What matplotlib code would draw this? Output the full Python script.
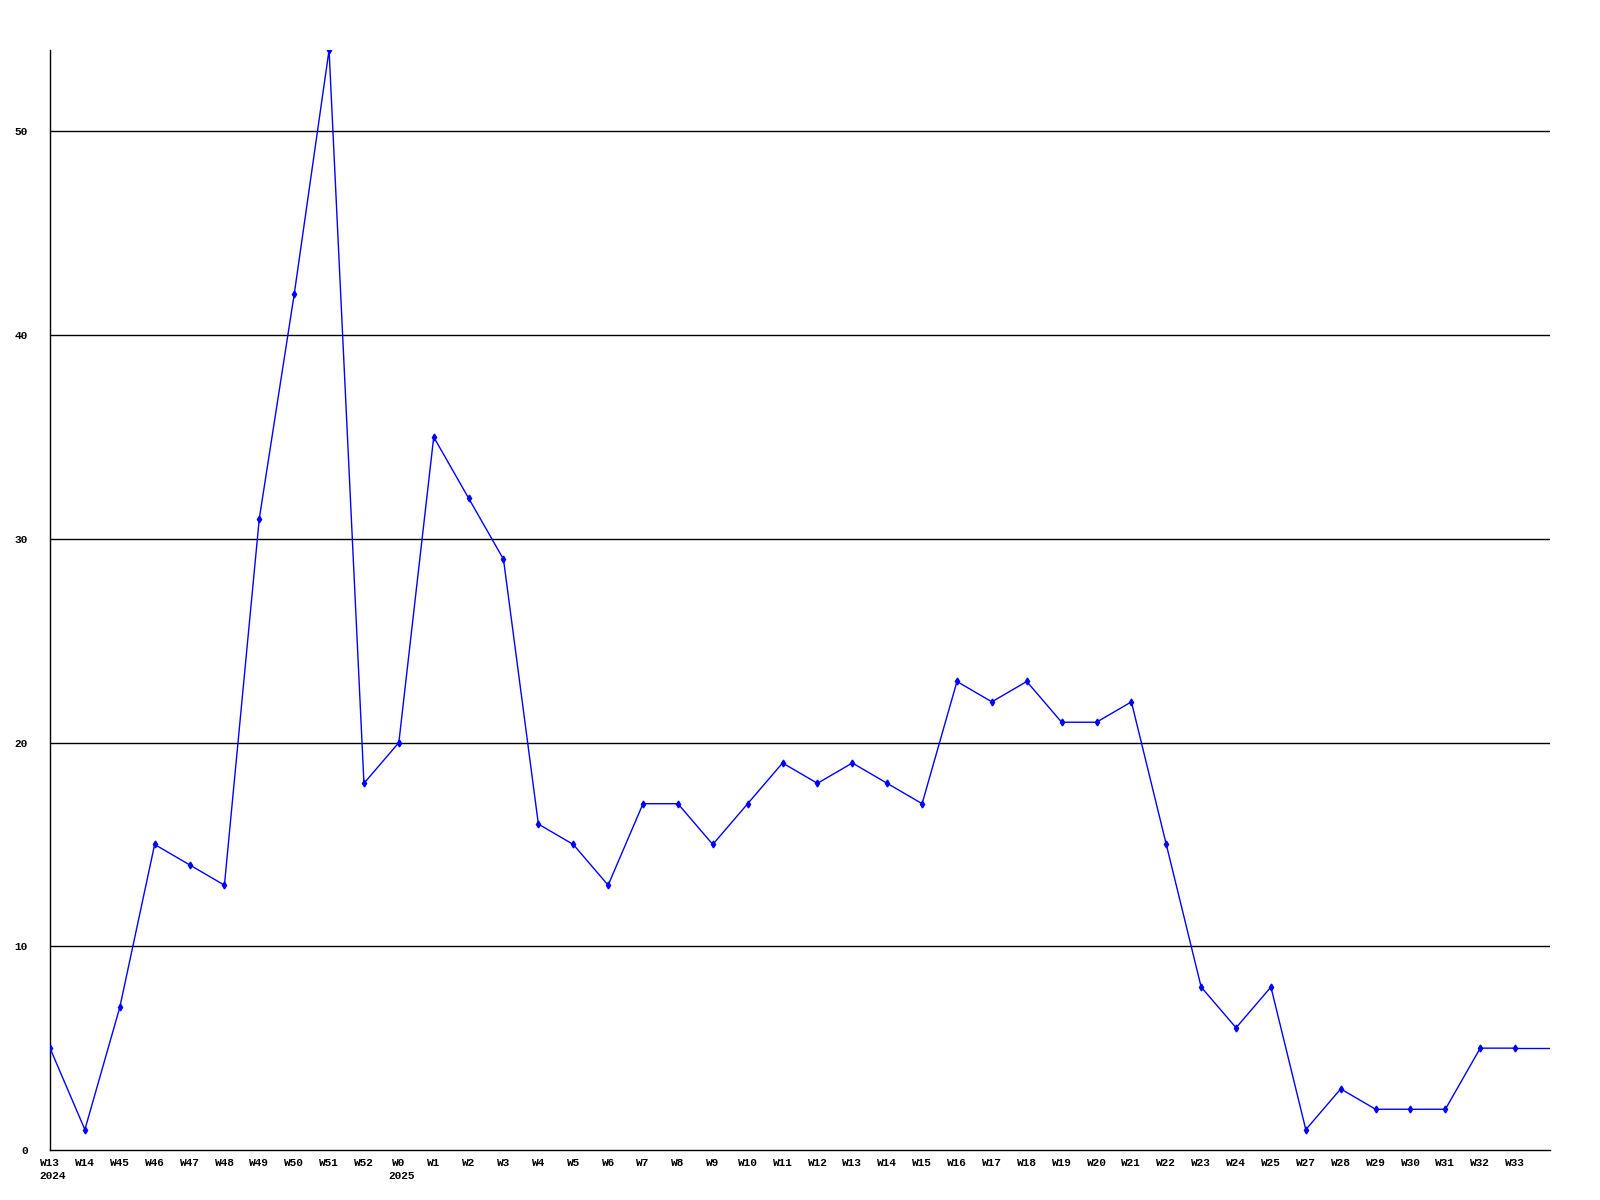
import matplotlib
matplotlib.use("Agg")
import matplotlib.pyplot as plt
import matplotlib.transforms as mtransforms

# weekly counts
weeks = ["W13", "W14", "W45", "W46", "W47", "W48", "W49", "W50", "W51", "W52",
         "W0", "W1", "W2", "W3", "W4", "W5", "W6", "W7", "W8", "W9", "W10",
         "W11", "W12", "W13", "W14", "W15", "W16", "W17", "W18", "W19", "W20",
         "W21", "W22", "W23", "W24", "W25", "W27", "W28", "W29", "W30", "W31",
         "W32", "W33", ""]
counts = [5, 1, 7, 15, 14, 13, 31, 42, 54, 18,
          20, 35, 32, 29, 16, 15, 13, 17, 17, 15, 17,
          19, 18, 19, 18, 17, 23, 22, 23, 21, 21,
          22, 15, 8, 6, 8, 1, 3, 2, 2, 2,
          5, 5, 5]
years = {0: "2024", 10: "2025"}
yticks = [0, 10, 20, 30, 40, 50]

fig = plt.figure(figsize=(16, 12), dpi=100)
ax = fig.add_axes([50 / 1600, 50 / 1200, 1500 / 1600, 1100 / 1200])

xs = list(range(len(counts)))
ax.plot(xs[:-1], counts[:-1], color="blue", lw=1, marker="d", ms=3.5, zorder=3)
ax.plot(xs[-2:], counts[-2:], color="blue", lw=1, zorder=3)

ax.set_xlim(0, len(counts) - 1)
ax.set_ylim(0, 54)

for v in yticks[1:]:
    ax.axhline(v, color="black", lw=1, zorder=1)

font = dict(family="Liberation Mono", weight="bold", size=8)
ax.set_yticks(yticks)
ax.set_yticklabels([str(v) for v in yticks], **font)
ax.set_xticks(xs[:-1])
ax.set_xticklabels(weeks[:-1], **font)
ax.tick_params(axis="both", length=0)
ax.tick_params(axis="y", pad=16)
ax.tick_params(axis="x", pad=6)

trans = mtransforms.blended_transform_factory(ax.transData, ax.transAxes)
for i, yr in years.items():
    ax.text(i - 0.3, -0.024, yr, transform=trans, ha="left", va="center", **font)

for s in ["top", "right"]:
    ax.spines[s].set_visible(False)
for s in ["left", "bottom"]:
    ax.spines[s].set_linewidth(1)

fig.savefig("out.png", dpi=100)
